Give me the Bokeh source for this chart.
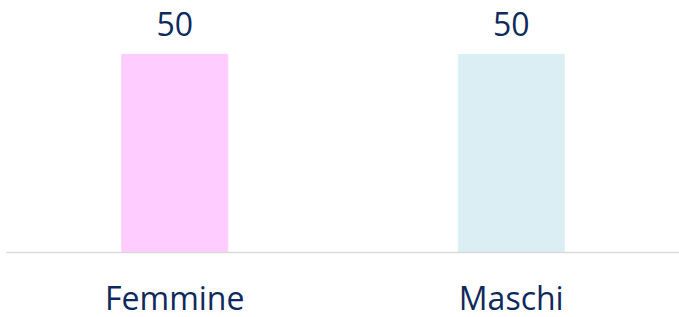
from bokeh.plotting import figure
from bokeh.models import ColumnDataSource, Range1d, FactorRange
from bokeh.core.properties import value
from bokeh.embed import file_html
from bokeh.resources import INLINE

categories = ["Femmine", "Maschi"]
values = [50, 50]
colors = ["#FFCCFF", "#DAEEF3"]
labels = [str(v) for v in values]

src = ColumnDataSource(dict(cat=categories, val=values, color=colors, label=labels))

p = figure(x_range=FactorRange(*categories, range_padding=0), y_range=Range1d(0, 63.6),
           frame_width=673, frame_height=252, output_backend="svg", toolbar_location=None,
           min_border_left=6, min_border_right=0, min_border_top=0, min_border_bottom=65)
p.vbar(x="cat", top="val", width=0.315, color="color", source=src)
p.text(x="cat", y="val", text="label", source=src, text_align="center",
       text_baseline="alphabetic", y_offset=-30, text_font=value("Open Sans"),
       text_font_size="32px", text_color="#0E2A5C")

p.yaxis.visible = False
p.xgrid.visible = False
p.ygrid.visible = False
p.outline_line_color = None
ax = p.xaxis[0]
ax.axis_line_color = "#D9D9D9"
ax.axis_line_width = 1.5
ax.major_tick_line_color = None
ax.minor_tick_line_color = None
ax.major_label_text_font = "Open Sans"
ax.major_label_text_font_size = "32px"
ax.major_label_text_color = "#0E2A5C"
ax.major_label_standoff = 17

open("out.html", "w").write(file_html(p, INLINE))
